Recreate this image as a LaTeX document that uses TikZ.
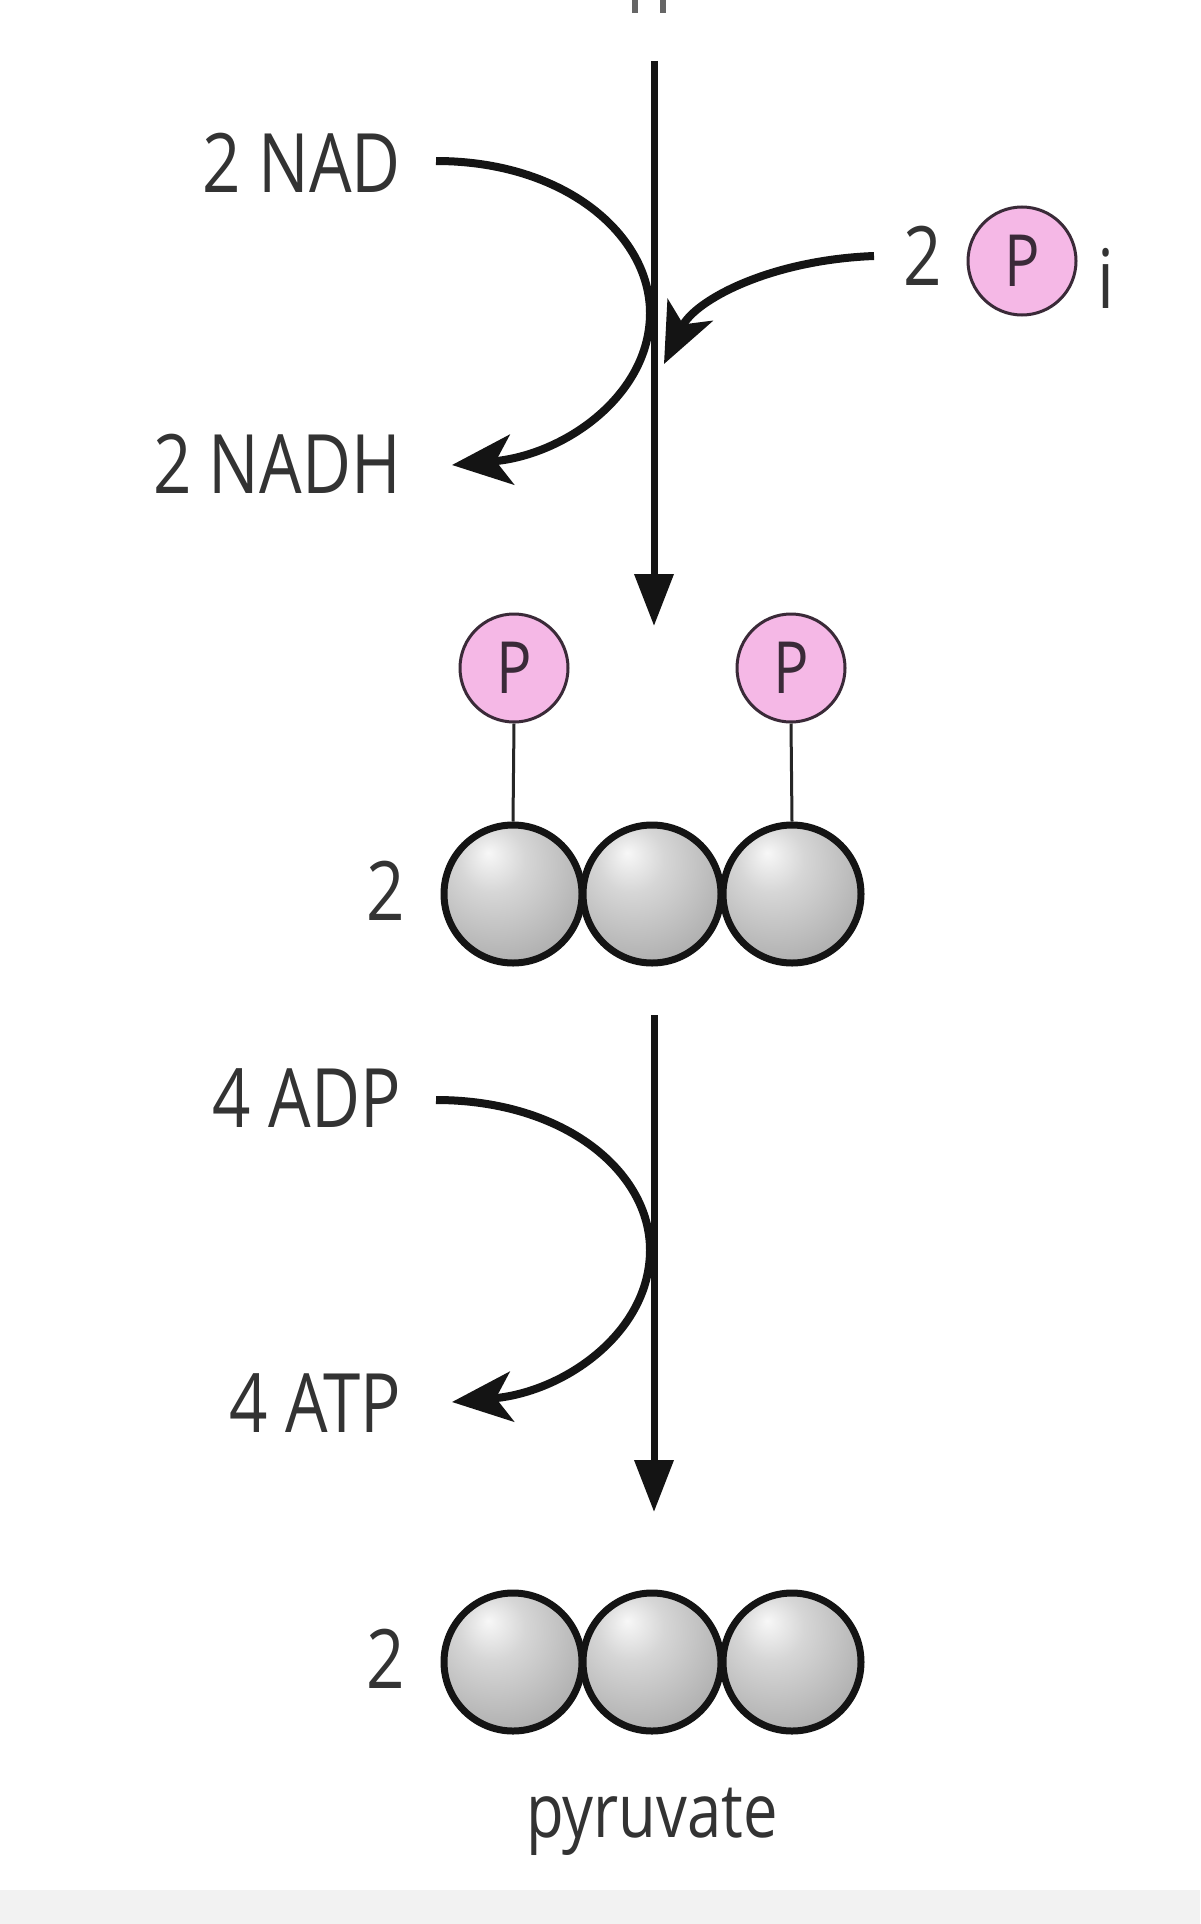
\documentclass[tikz,border=0pt]{standalone}
\usepackage{fontspec}
\setmainfont{Open Sans}[FakeStretch=0.82]
\usetikzlibrary{arrows.meta}
\definecolor{phpink}{HTML}{F5B8E6}
\definecolor{phline}{HTML}{3A2A38}
\definecolor{txt}{HTML}{333333}
\pgfdeclareradialshading{ballshade}{\pgfpoint{-9bp}{15bp}}{color(0bp)=(black!3); color(12bp)=(black!16); color(35bp)=(black!32); color(55bp)=(black!48); color(75bp)=(black!56)}
\tikzset{
  lbl/.style={font=\fontsize{82}{90}\selectfont, text=txt, inner sep=0pt},
  ball/.style={circle, minimum size=138pt, inner sep=0pt, draw=black!92, line width=7pt, shading=ballshade},
  phos/.style={circle, minimum size=108pt, inner sep=0pt, draw=phline, line width=3pt, fill=phpink, text=phline, font=\fontsize{72}{80}\selectfont},
  flow/.style={line width=7pt, draw=black!92, -{Triangle[length=52pt,width=38pt]}},
  side/.style={line width=8pt, draw=black!92, -{Stealth[length=60pt,width=50pt,inset=16pt]}},
  stick/.style={line width=3pt, draw=black!85}
}
\begin{document}
\begin{tikzpicture}[x=1pt,y=-1pt]
\useasboundingbox (0,0) rectangle (1200,1924);
\fill[white] (0,0) rectangle (1200,1924);
\fill[black!5] (0,1890) rectangle (1200,1924);
% clipped glyph remains at the top
\fill[black!60] (632,0) rectangle (638,13);
\fill[black!60] (660,0) rectangle (666,13);

% first step
\coordinate (a1s) at (654,61);
\coordinate (a1e) at (654,626);
\draw[flow] (a1s) -- (a1e);

\node[lbl, anchor=base east] (nad) at (401,192) {2 NAD};
\node[lbl, anchor=base east] (nadh) at (401,493) {2 NADH};
\coordinate (nadS) at (436,161);
\coordinate (nadM) at (650,313);
\coordinate (nadhE) at (452,465);
\draw[side] (nadS) .. controls (565,161) and (650,235) .. (nadM) .. controls (650,395) and (565,455) .. (nadhE);

\node[lbl, anchor=base east] (pitwo) at (942,285) {2};
\node[phos] (pi) at (1022,261) {P};
\node[lbl, anchor=base west] (pisub) at (1097,308) {i};
\coordinate (piS) at (874,256);
\coordinate (piE) at (664,364);
\draw[side] (piS) .. controls (770,260) and (695,300) .. (piE);

% bisphosphate
\node[phos] (p1) at (514,668) {P};
\node[phos] (p3) at (791,668) {P};
\node[ball] (b1) at (513,894) {};
\node[ball] (b2) at (652,894) {};
\node[ball] (b3) at (792,894) {};
\draw[stick] (p1.south) -- (b1.north);
\draw[stick] (p3.south) -- (b3.north);
\node[lbl, anchor=base east] (n1) at (405,920) {2};

% second step
\coordinate (a2s) at (654,1015);
\coordinate (a2e) at (654,1512);
\draw[flow] (a2s) -- (a2e);

\node[lbl, anchor=base east] (adp) at (401,1127) {4 ADP};
\node[lbl, anchor=base east] (atp) at (401,1432) {4 ATP};
\coordinate (adpS) at (436,1100);
\coordinate (adpM) at (650,1250);
\coordinate (atpE) at (452,1402);
\draw[side] (adpS) .. controls (565,1100) and (650,1172) .. (adpM) .. controls (650,1332) and (565,1392) .. (atpE);

% pyruvate
\node[ball] (c1) at (513,1662) {};
\node[ball] (c2) at (652,1662) {};
\node[ball] (c3) at (792,1662) {};
\node[lbl, anchor=base east] (n2) at (405,1688) {2};
\node[font=\fontsize{75}{80}\selectfont, text=txt, inner sep=0pt, anchor=base] (pyr) at (652,1837) {pyruvate};
\end{tikzpicture}
\end{document}
